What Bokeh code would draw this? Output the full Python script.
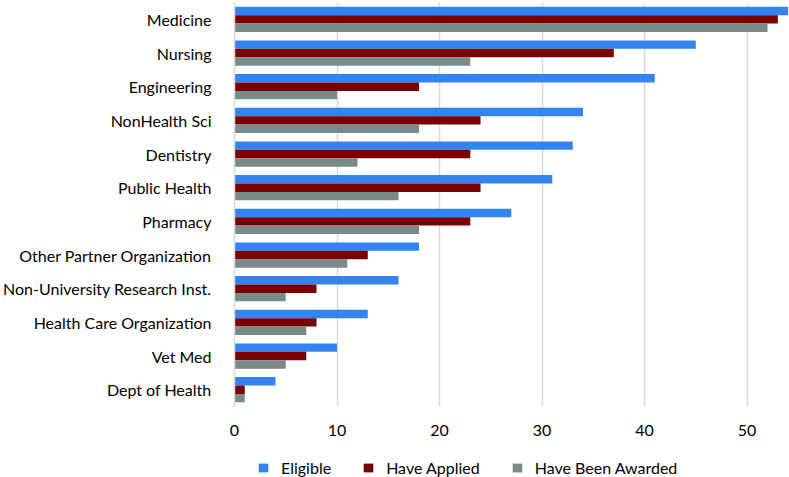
from bokeh.plotting import figure
from bokeh.layouts import column
from bokeh.models import ColumnDataSource, FactorRange, Range1d, Legend, LegendItem, FixedTicker
from bokeh.transform import dodge
from bokeh.embed import file_html
from bokeh.resources import INLINE

categories = ["Medicine", "Nursing", "Engineering", "NonHealth Sci", "Dentistry",
              "Public Health", "Pharmacy", "Other Partner Organization",
              "Non-University Research Inst.", "Health Care Organization",
              "Vet Med", "Dept of Health"]
eligible = [54, 45, 41, 34, 33, 31, 27, 18, 16, 13, 10, 4]
have_applied = [53, 37, 18, 24, 23, 24, 23, 13, 8, 8, 7, 1]
have_been_awarded = [52, 23, 10, 18, 12, 16, 18, 11, 5, 7, 5, 1]
x_ticks = [0, 10, 20, 30, 40, 50]
series_names = ["Eligible", "Have Applied", "Have Been Awarded"]
colors = ["#3383F0", "#7B0000", "#788A8A"]

FONT = "Lato"

source = ColumnDataSource(dict(cat=categories, eligible=eligible,
                               applied=have_applied, awarded=have_been_awarded))

# ---- main chart ----
p = figure(width=789, height=440,
           y_range=FactorRange(factors=categories[::-1], range_padding=0),
           x_range=Range1d(0, 54.14),
           output_backend="svg", toolbar_location=None,
           min_border_left=233, min_border_right=0, min_border_top=2,
           min_border_bottom=34)
p.outline_line_color = None

fields = ["eligible", "applied", "awarded"]
offsets = [0.25, 0.0, -0.25]
for f, off, c in zip(fields, offsets, colors):
    p.hbar(y=dodge("cat", off, range=p.y_range), right=f, height=0.25,
           source=source, color=c, line_color=None)

ticker = FixedTicker(ticks=x_ticks)
p.xaxis.ticker = ticker
p.xgrid.ticker = ticker
p.xgrid.grid_line_color = "#d9d9d9"
p.xgrid.grid_line_width = 1.5
p.ygrid.grid_line_color = None

p.xaxis.axis_line_color = None
p.xaxis.major_tick_line_color = None
p.xaxis.minor_tick_line_color = None
p.xaxis.major_label_standoff = 12
p.xaxis.major_label_text_font = FONT
p.xaxis.major_label_text_font_size = "16px"
p.xaxis.major_label_text_color = "#000000"

p.yaxis.axis_line_color = "#d9d9d9"
p.yaxis.axis_line_width = 1.5
p.yaxis.major_tick_line_color = None
p.yaxis.minor_tick_line_color = None
p.yaxis.major_label_standoff = 17
p.yaxis.major_label_text_font = FONT
p.yaxis.major_label_text_font_size = "16px"
p.yaxis.major_label_text_color = "#000000"

# ---- legend strip ----
q = figure(width=789, height=37,
           y_range=FactorRange(factors=categories[::-1]),
           x_range=Range1d(0, 54.14),
           output_backend="svg", toolbar_location=None,
           x_axis_type=None, y_axis_type=None,
           min_border_left=0, min_border_right=0, min_border_top=0,
           min_border_bottom=0)
q.outline_line_color = None
q.grid.grid_line_color = None
legend_renderers = []
for f, c in zip(fields, colors):
    r = q.hbar(y="cat", right=f, height=0.25, source=source, color=c,
               line_color=None, visible=False)
    legend_renderers.append(r)

legend = Legend(items=[LegendItem(label=n, renderers=[r])
                       for n, r in zip(series_names, legend_renderers)],
                orientation="horizontal", location=(23, 0),
                glyph_width=12, glyph_height=11, label_standoff=12, spacing=31,
                padding=0, margin=0, border_line_color=None,
                background_fill_alpha=0, label_height=18,
                inactive_fill_alpha=0,
                label_text_font=FONT, label_text_font_size="16px",
                label_text_color="#000000")
q.add_layout(legend, "center")

layout = column(p, q, spacing=0)
open("out.html", "w").write(file_html(layout, INLINE))
